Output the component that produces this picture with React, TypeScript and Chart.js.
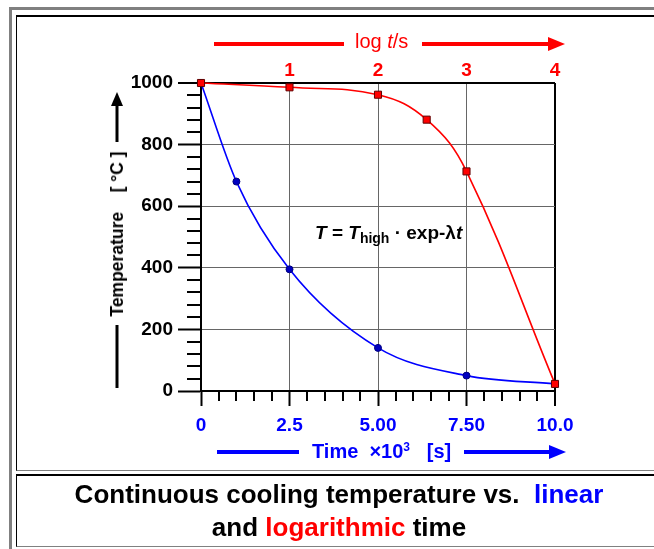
import React, { useEffect, useRef } from 'react';
import { Chart, registerables } from 'chart.js';

Chart.register(...registerables);

const W = 654;
const H = 549;

// ---- data ----
const linearTime = [0, 1, 2.5, 5, 7.5, 10]; // ×10^3 s
const linearTemp = [1000, 680, 395, 140, 50, 23];
const logTime = [0, 1, 2, 2.55, 3, 4]; // log t/s
const logTemp = [1000, 986, 962, 881, 713, 23];

const timeTicks = [0, 2.5, 5, 7.5, 10];
const timeTickLabels = ['0', '2.5', '5.00', '7.50', '10.0'];
const logTicks = [1, 2, 3, 4];
const logTickLabels = ['1', '2', '3', '4'];
const tempTicks = [0, 200, 400, 600, 800, 1000];
const tempTickLabels = ['0', '200', '400', '600', '800', '1000'];
const timeMinorStep = 0.5;
const tempMinorStep = 40;

const FONT = '"Liberation Sans", Arial, sans-serif';

function arrow(ctx: CanvasRenderingContext2D, x1: number, y1: number, x2: number, y2: number, color: string, width: number, headLen: number, headHalf: number) {
  const dx = x2 - x1, dy = y2 - y1;
  const len = Math.hypot(dx, dy);
  const ux = dx / len, uy = dy / len;
  const bx = x2 - ux * headLen, by = y2 - uy * headLen;
  ctx.strokeStyle = color;
  ctx.fillStyle = color;
  ctx.lineWidth = width;
  ctx.beginPath();
  ctx.moveTo(x1, y1);
  ctx.lineTo(bx, by);
  ctx.stroke();
  ctx.beginPath();
  ctx.moveTo(x2, y2);
  ctx.lineTo(bx - uy * headHalf, by + ux * headHalf);
  ctx.lineTo(bx + uy * headHalf, by - ux * headHalf);
  ctx.closePath();
  ctx.fill();
}

function seg(ctx: CanvasRenderingContext2D, x1: number, y1: number, x2: number, y2: number, color: string, width: number) {
  ctx.strokeStyle = color;
  ctx.lineWidth = width;
  ctx.beginPath();
  ctx.moveTo(x1, y1);
  ctx.lineTo(x2, y2);
  ctx.stroke();
}

const decorPlugin = {
  id: 'decor',
  afterDraw(chart: any) {
    const ctx: CanvasRenderingContext2D = chart.ctx;
    const a = chart.chartArea;
    const xs = chart.scales.x;
    const ys = chart.scales.y;
    ctx.save();
    // minor ticks
    ctx.strokeStyle = '#000';
    ctx.lineWidth = 2;
    ctx.beginPath();
    for (let v = tempMinorStep; v < 1000; v += tempMinorStep) {
      if (tempTicks.includes(v)) continue;
      const py = Math.round(ys.getPixelForValue(v));
      ctx.moveTo(a.left - 14, py);
      ctx.lineTo(a.left, py);
    }
    for (let v = timeMinorStep; v < 10; v += timeMinorStep) {
      if (timeTicks.some((t) => Math.abs(t - v) < 1e-9)) continue;
      const px = Math.round(xs.getPixelForValue(v));
      ctx.moveTo(px, a.bottom);
      ctx.lineTo(px, a.bottom + 10);
    }
    ctx.stroke();

    // y-axis title decorations
    arrow(ctx, 117, 142, 117, 92, '#000', 3, 14, 6);
    seg(ctx, 117, 325, 117, 388, '#000', 3);
    // x-axis title decorations
    seg(ctx, 217, 452, 299, 452, '#0000ff', 4);
    arrow(ctx, 464, 452, 566, 452, '#0000ff', 4, 17, 7);
    // log axis decorations
    seg(ctx, 214, 44, 344, 44, '#ff0000', 4);
    arrow(ctx, 422, 44, 565, 44, '#ff0000', 4, 17, 7);
    ctx.restore();
  },
};

export default function App() {
  const ref = useRef<HTMLCanvasElement | null>(null);

  useEffect(() => {
    const canvas = ref.current;
    if (!canvas) return;
    const chart = new Chart(canvas, {
      type: 'line',
      data: {
        datasets: [
          {
            label: 'log time',
            data: logTime.map((t, i) => ({ x: t, y: logTemp[i] })),
            xAxisID: 'xlog',
            yAxisID: 'y',
            borderColor: '#ff0000',
            borderWidth: 1.6,
            tension: 0.4,
            pointStyle: 'rect',
            pointRadius: 5,
            pointBackgroundColor: '#ff0000',
            pointBorderColor: '#600000',
            pointBorderWidth: 1,
            clip: false,
          },
          {
            label: 'linear time',
            data: linearTime.map((t, i) => ({ x: t, y: linearTemp[i] })),
            xAxisID: 'x',
            yAxisID: 'y',
            borderColor: '#0000ff',
            borderWidth: 1.6,
            cubicInterpolationMode: 'monotone',
            pointStyle: 'circle',
            pointRadius: 3.5,
            pointBackgroundColor: '#0000c0',
            pointBorderColor: '#000080',
            pointBorderWidth: 1,
            clip: false,
          },
        ],
      },
      options: {
        responsive: false,
        animation: false,
        devicePixelRatio: 1,
        layout: { padding: { left: 0, right: 99, top: 0, bottom: 0 } },
        plugins: { legend: { display: false }, tooltip: { enabled: false } },
        scales: {
          x: {
            type: 'linear',
            position: 'bottom',
            min: 0,
            max: 10,
            afterBuildTicks: (s: any) => {
              s.ticks = timeTicks.map((v) => ({ value: v }));
            },
            afterFit: (s: any) => {
              s.height = 158;
            },
            ticks: {
              autoSkip: false,
              maxRotation: 0,
              padding: 8,
              color: '#0000ff',
              font: { family: FONT, size: 19, weight: 'bold' },
              callback: (_v: any, i: number) => timeTickLabels[i],
            },
            grid: {
              color: (c: any) => (c.tick && c.tick.value === 10 ? '#000' : '#666'),
              lineWidth: (c: any) => (c.tick && c.tick.value === 10 ? 2 : 1),
              tickColor: '#000',
              tickWidth: 2,
              tickLength: 15,
            },
            border: { display: true, color: '#000', width: 2 },
          },
          xlog: {
            type: 'linear',
            position: 'top',
            min: 0,
            max: 4,
            afterBuildTicks: (s: any) => {
              s.ticks = logTicks.map((v) => ({ value: v }));
            },
            afterFit: (s: any) => {
              s.height = 83;
            },
            ticks: {
              autoSkip: false,
              maxRotation: 0,
              padding: 1,
              color: '#ff0000',
              font: { family: FONT, size: 19, weight: 'bold' },
              callback: (_v: any, i: number) => logTickLabels[i],
            },
            grid: { display: false, drawTicks: false, drawOnChartArea: false },
            border: { display: false },
          },
          y: {
            type: 'linear',
            position: 'left',
            min: 0,
            max: 1000,
            afterBuildTicks: (s: any) => {
              s.ticks = tempTicks.map((v) => ({ value: v }));
            },
            afterFit: (s: any) => {
              s.width = 201;
            },
            ticks: {
              padding: 5,
              color: '#000',
              font: { family: FONT, size: 19, weight: 'bold' },
              callback: (_v: any, i: number) => tempTickLabels[i],
            },
            grid: {
              color: (c: any) => (c.tick && (c.tick.value === 1000 || c.tick.value === 0) ? '#000' : '#666'),
              lineWidth: (c: any) => (c.tick && c.tick.value === 1000 ? 2 : 1),
              tickColor: '#000',
              tickWidth: 2,
              tickLength: 23,
            },
            border: { display: true, color: '#000', width: 2 },
          },
        },
      },
      plugins: [decorPlugin],
    } as any);
    return () => chart.destroy();
  }, []);

  const abs = (o: React.CSSProperties): React.CSSProperties => ({ position: 'absolute', ...o });

  return (
    <div style={{ position: 'fixed', left: 0, top: 0, width: W, height: H, overflow: 'hidden', background: '#fff', fontFamily: FONT }}>
      {/* outer gray frame */}
      <div style={abs({ left: 9, top: 7, width: 700, height: 600, borderLeft: '3px solid #808080', borderTop: '3px solid #808080' })} />
      {/* top panel */}
      <div style={abs({ left: 16, top: 15, width: 646, height: 453, borderLeft: '1px solid #000', borderTop: '2px solid #000', borderBottom: '1px solid #808080' })} />
      {/* caption panel */}
      <div style={abs({ left: 16, top: 474, width: 646, height: 70, borderLeft: '1px solid #000', borderTop: '2px solid #000', borderBottom: '1px solid #808080' })} />
      <canvas ref={ref} width={W} height={H} style={abs({ left: 0, top: 0, width: W, height: H })} />

      {/* y-axis title */}
      <div style={abs({ left: 117, top: 234, transform: 'translate(-50%, -50%) rotate(-90deg)', whiteSpace: 'pre', fontWeight: 'bold', fontSize: 17.5, lineHeight: '18px', color: '#000' })}>
        {'Temperature    [ \u00b0C ]'}
      </div>

      {/* x-axis title */}
      <div style={abs({ left: 312, top: 441, whiteSpace: 'pre', fontWeight: 'bold', fontSize: 20, lineHeight: '20px', color: '#0000ff' })}>
        {'Time  \u00d710'}
        <sup style={{ fontSize: 12, verticalAlign: 'top', position: 'relative', top: -4 }}>3</sup>
        {'   [s]'}
      </div>

      {/* log axis title */}
      <div style={abs({ left: 355, top: 31, whiteSpace: 'pre', fontSize: 20, lineHeight: '20px', color: '#ff0000' })}>
        {'log '}
        <i>t</i>
        {'/s'}
      </div>

      {/* formula */}
      <div style={abs({ left: 315, top: 223, whiteSpace: 'pre', fontWeight: 'bold', fontSize: 19, lineHeight: '19px', color: '#000' })}>
        <i>T</i>
        {' = '}
        <i>T</i>
        <sub style={{ fontSize: 14, verticalAlign: 'baseline', position: 'relative', top: 4 }}>high</sub>
        {' \u00b7 exp-\u03bb'}
        <i>t</i>
      </div>

      {/* caption */}
      <div style={abs({ left: 16, top: 478, width: 646, textAlign: 'center', fontWeight: 'bold', fontSize: 26, lineHeight: '33px', color: '#000', whiteSpace: 'pre' })}>
        <div>
          {'Continuous cooling temperature vs.  '}
          <span style={{ color: '#0000ff' }}>linear</span>
        </div>
        <div>
          {'and '}
          <span style={{ color: '#ff0000' }}>logarithmic</span>
          {' time'}
        </div>
      </div>
    </div>
  );
}
